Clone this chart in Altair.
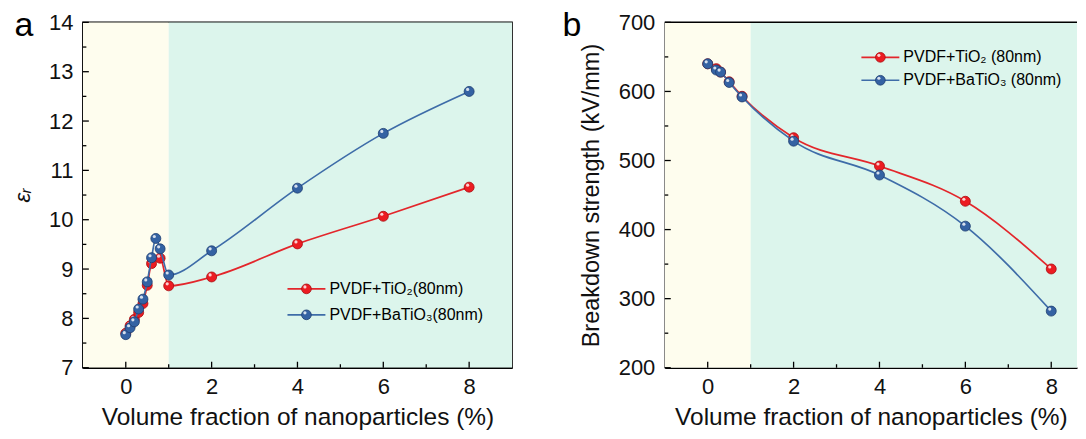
import altair as alt
import pandas as pd

# ---------------- data ----------------
# panel a: dielectric constant
xa_tio2 = [0, 0.1, 0.2, 0.3, 0.4, 0.5, 0.6, 0.8, 1, 2, 4, 6, 8]
eps_tio2 = [7.70, 7.85, 7.98, 8.12, 8.30, 8.67, 9.11, 9.22, 8.66, 8.84, 9.51, 10.07, 10.66]
xa_bto = [0, 0.1, 0.2, 0.3, 0.4, 0.5, 0.6, 0.7, 0.8, 1, 2, 4, 6, 8]
eps_bto = [7.67, 7.81, 7.93, 8.19, 8.39, 8.74, 9.23, 9.62, 9.41, 8.88, 9.37, 10.64, 11.75, 12.60]

# panel b: breakdown strength
xb = [0, 0.2, 0.3, 0.5, 0.8, 2, 4, 6, 8]
bd_tio2 = [640, 633, 628, 614, 593, 533, 492, 441, 343]
bd_bto = [640, 631, 628, 613, 592, 528, 479, 405, 282]

# tick values / labels
x_major = [0, 2, 4, 6, 8]
x_minor = [1, 3, 5, 7]
ya_major = [7, 8, 9, 10, 11, 12, 13, 14]
ya_minor = [7.5, 8.5, 9.5, 10.5, 11.5, 12.5, 13.5]
yb_major = [200, 300, 400, 500, 600, 700]
yb_minor = [250, 350, 450, 550, 650]

region_start = [-1, 1]
region_end = [1, 9]
region_colors = ["#FEFDEE", "#DCF5EC"]

panel_labels = ["a", "b"]
legend_a = ["PVDF+TiO\u2082(80nm)", "PVDF+BaTiO\u2083(80nm)"]
legend_b = ["PVDF+TiO\u2082 (80nm)", "PVDF+BaTiO\u2083 (80nm)"]
x_title = "Volume fraction of nanoparticles (%)"
ya_title = "\u03b5\u1d63"
yb_title = "Breakdown strength (kV/mm)"

# ---------------- style ----------------
FONT = "Liberation Sans"
RED_LINE, RED_PT, RED_EDGE = "#E3262B", "#EC1C22", "#A80E12"
BLUE_LINE, BLUE_PT, BLUE_EDGE = "#3E6CA8", "#3462A3", "#1E3E70"
W_A, W_B, H = 430, 413, 346
PAD_L, PAD_T, PAD_B = 74, 12, 64


def ticks_layer(xscale, yscale, xaxis, yaxis, ymaj, ymin):
    layers = []
    for vals, ln in ((x_major, 6), (x_minor, 3.5)):
        layers.append(
            alt.Chart(pd.DataFrame({"v": vals})).mark_rule(color="black", strokeWidth=1.3).encode(
                x=alt.X("v:Q", scale=xscale, axis=xaxis),
                y=alt.value(H), y2=alt.value(H - ln)))
    for vals, ln in ((ymaj, 6), (ymin, 3.5)):
        layers.append(
            alt.Chart(pd.DataFrame({"v": vals})).mark_rule(color="black", strokeWidth=1.3).encode(
                y=alt.Y("v:Q", scale=yscale, axis=yaxis),
                x=alt.value(0), x2=alt.value(ln)))
    return layers


def series(xs, ys, xscale, yscale, xaxis, yaxis, line_c, pt_c, edge_c):
    df = pd.DataFrame({"x": xs, "y": ys})
    base = alt.Chart(df).encode(
        x=alt.X("x:Q", scale=xscale, axis=xaxis),
        y=alt.Y("y:Q", scale=yscale, axis=yaxis))
    line = base.mark_line(color=line_c, strokeWidth=1.7, interpolate="monotone")
    pts = base.mark_circle(size=100, color=pt_c, opacity=1, stroke=edge_c, strokeWidth=0.8)
    hl = base.mark_circle(size=10, color="white", opacity=0.8, xOffset=-1.5, yOffset=-2)
    return [line, pts, hl]


def legend_rows(labels, x0, y0, dy):
    layers = []
    cols = [(RED_LINE, RED_PT, RED_EDGE), (BLUE_LINE, BLUE_PT, BLUE_EDGE)]
    for i, (lab, (lc, pc, ec)) in enumerate(zip(labels, cols)):
        yy = y0 + i * dy
        c = alt.Chart(pd.DataFrame({"t": [lab]}))
        layers.append(c.mark_rule(color=lc, strokeWidth=1.7).encode(
            x=alt.value(x0), x2=alt.value(x0 + 38), y=alt.value(yy)))
        layers.append(c.mark_circle(size=95, color=pc, opacity=1, stroke=ec, strokeWidth=0.8).encode(
            x=alt.value(x0 + 19), y=alt.value(yy)))
        layers.append(c.mark_circle(size=10, color="white", opacity=0.8, xOffset=-1.5, yOffset=-2).encode(
            x=alt.value(x0 + 19), y=alt.value(yy)))
        layers.append(c.mark_text(align="left", baseline="middle", font=FONT, fontSize=16,
                                  color="black").encode(
            x=alt.value(x0 + 42), y=alt.value(yy), text="t:N"))
    return layers


def make_xaxis():
    return alt.Axis(values=x_major, title=x_title, ticks=False, grid=False, labelPadding=9,
                    titlePadding=8, titleFontSize=24.5)


def background(xscale, xaxis):
    return alt.Chart(pd.DataFrame({"x0": region_start, "x1": region_end, "c": region_colors})).mark_rect(
        clip=True).encode(
        x=alt.X("x0:Q", scale=xscale, axis=xaxis),
        x2="x1:Q",
        y=alt.value(0), y2=alt.value(H),
        color=alt.Color("c:N", scale=None))


def panel_label(t, dx):
    return alt.Chart(pd.DataFrame({"t": [t]})).mark_text(
        font=FONT, fontSize=34, align="center", baseline="alphabetic", color="black").encode(
        x=alt.value(dx), y=alt.value(14), text="t:N")


# invisible layout anchor (white hairline at the page's left margin)
anchor = alt.Chart(pd.DataFrame({"t": ["a"]})).mark_rule(color="white", strokeWidth=1).encode(
    x=alt.value(-PAD_L + 0.5), y=alt.value(-PAD_T), y2=alt.value(H + PAD_B))

# ---------------- panel a ----------------
xs_a = alt.Scale(domain=[-1, 9], nice=False, zero=False)
ys_a = alt.Scale(domain=[7, 14], nice=False, zero=False)
xaxis_a = make_xaxis()
yaxis_a = alt.Axis(values=ya_major, title=ya_title, ticks=False, grid=False, labelPadding=10,
                   titlePadding=14, titleFontStyle="italic", titleFontSize=22)

layers_a = [background(xs_a, xaxis_a)]
layers_a += series(xa_tio2, eps_tio2, xs_a, ys_a, xaxis_a, yaxis_a, RED_LINE, RED_PT, RED_EDGE)
layers_a += series(xa_bto, eps_bto, xs_a, ys_a, xaxis_a, yaxis_a, BLUE_LINE, BLUE_PT, BLUE_EDGE)
layers_a += ticks_layer(xs_a, ys_a, xaxis_a, yaxis_a, ya_major, ya_minor)
layers_a += legend_rows(legend_a, 205, 267, 26)
layers_a.append(panel_label(panel_labels[0], -59))
layers_a.append(anchor)
panel_a = alt.layer(*layers_a).properties(width=W_A, height=H)

# ---------------- panel b ----------------
xs_b = alt.Scale(domain=[-1, 8.6], nice=False, zero=False)
ys_b = alt.Scale(domain=[200, 700], nice=False, zero=False)
xaxis_b = make_xaxis()
yaxis_b = alt.Axis(values=yb_major, title=yb_title, ticks=False, grid=False, labelPadding=10,
                   titlePadding=15, titleFontSize=23.5)

top_b = alt.Chart(pd.DataFrame({"t": [panel_labels[1]]})).mark_rule(color="black", strokeWidth=1.5).encode(
    x=alt.value(0), x2=alt.value(W_B), y=alt.value(0))

layers_b = [background(xs_b, xaxis_b), top_b]
layers_b += series(xb, bd_tio2, xs_b, ys_b, xaxis_b, yaxis_b, RED_LINE, RED_PT, RED_EDGE)
layers_b += series(xb, bd_bto, xs_b, ys_b, xaxis_b, yaxis_b, BLUE_LINE, BLUE_PT, BLUE_EDGE)
layers_b += ticks_layer(xs_b, ys_b, xaxis_b, yaxis_b, yb_major, yb_minor)
layers_b += legend_rows(legend_b, 197, 35, 23)
layers_b.append(panel_label(panel_labels[1], -93))
panel_b = alt.layer(*layers_b).properties(width=W_B, height=H,
                                          view=alt.ViewBackground(strokeOpacity=0))

chart = alt.hconcat(panel_a, panel_b, spacing=153, bounds="flush").resolve_scale(
    x="independent", y="independent"
).properties(
    padding=0,
).configure_view(
    stroke="black", strokeWidth=1.5
).configure_axis(
    domainColor="black", domainWidth=1.5, labelFont=FONT, labelFontSize=22, labelColor="#111",
    titleFont=FONT, titleFontSize=22, titleFontWeight="normal", titleColor="#111"
)

chart.save("out.html", embed_options={"renderer": "svg", "actions": False})
